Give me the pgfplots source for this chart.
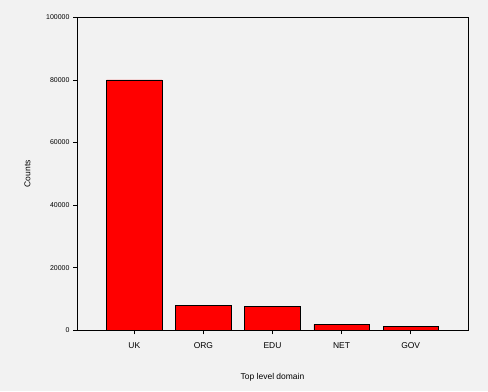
\documentclass[border=0pt]{standalone}
\usepackage{fontspec}
\setmainfont{Liberation Sans}
\usepackage{pgfplots}
\pgfplotsset{compat=1.18}
\definecolor{bg}{HTML}{F2F2F2}
\begin{document}
\begin{tikzpicture}[x=1bp,y=1bp]
\fill[bg] (0,0) rectangle (488,391);
\useasboundingbox (0,0) rectangle (488,391);
\begin{axis}[
  at={(77bp,60.7bp)}, anchor=south west,
  scale only axis, width=391bp, height=313bp,
  xmin=-0.83, xmax=4.83, ymin=0, ymax=100000,
  ybar, bar width=0.8,
  axis line style={black, line width=0.8pt},
  xtick={0,1,2,3,4}, xticklabels={UK,ORG,EDU,NET,GOV},
  ytick={0,20000,40000,60000,80000,100000},
  scaled y ticks=false,
  yticklabel style={/pgf/number format/fixed,/pgf/number format/1000 sep={}},
  /pgf/number format/assume math mode=true,
  tick align=outside, major tick length=4bp,
  tick style={black, line width=0.6pt},
  x tick label style={font=\fontsize{8.5}{10}\selectfont, yshift=-5bp},
  y tick label style={font=\fontsize{7}{8}\selectfont},
  xtick pos=bottom, ytick pos=left,
  ylabel={Counts}, xlabel={Top level domain},
  label style={font=\fontsize{8.5}{10}\selectfont},
  ylabel style={at={(axis description cs:-0.11,0.5)}},
  xlabel style={at={(axis description cs:0.5,-0.125)}},
]
\addplot[fill=red, draw=black, line width=0.8pt] coordinates {
  (0,80000) (1,7990) (2,7670) (3,1920) (4,1370)
};
\end{axis}
\end{tikzpicture}
\end{document}
